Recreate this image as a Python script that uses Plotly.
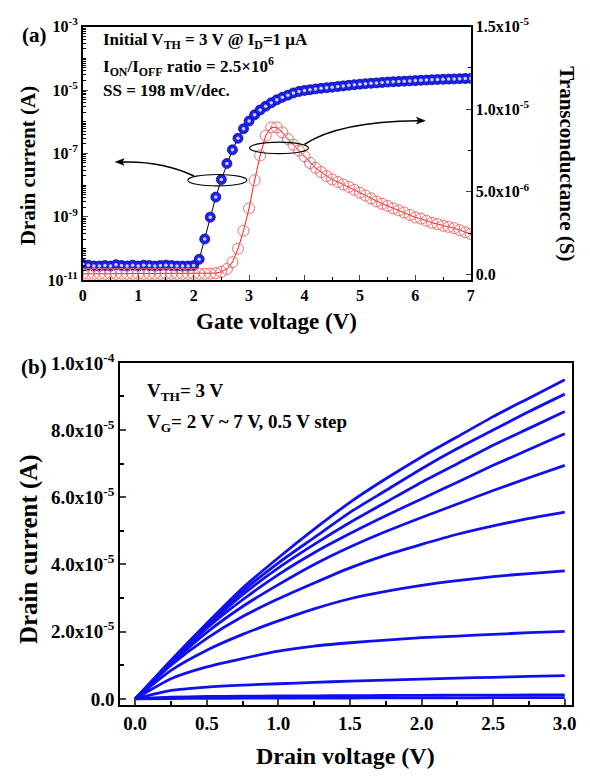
import numpy as np
import plotly.graph_objects as go

# ---------------- data: panel (a) transfer curve ----------------
gate_v = np.round(np.arange(0, 7.05, 0.1), 1)

drain_i = [
    3.2e-11, 3.0e-11, 2.8e-11, 2.8e-11, 2.9e-11, 2.8e-11, 3.1e-11, 2.9e-11, 2.8e-11, 3.0e-11,
    2.8e-11, 3.0e-11, 2.9e-11, 2.8e-11, 2.9e-11, 3.0e-11, 2.9e-11, 2.8e-11, 2.8e-11, 2.8e-11,
    2.9e-11, 4.6e-11, 2.0e-10, 9.8e-10, 4.2e-9, 1.5e-8, 4.8e-8, 1.3e-7, 3.0e-7, 6.0e-7,
    1.05e-6, 1.65e-6, 2.35e-6, 3.1e-6, 3.95e-6, 4.9e-6, 5.9e-6, 6.9e-6, 8.1e-6, 9.0e-6,
    9.7e-6, 1.02e-5, 1.08e-5, 1.13e-5, 1.18e-5, 1.23e-5, 1.29e-5, 1.35e-5, 1.41e-5, 1.47e-5,
    1.53e-5, 1.58e-5, 1.63e-5, 1.68e-5, 1.73e-5, 1.78e-5, 1.82e-5, 1.86e-5, 1.90e-5, 1.94e-5,
    1.98e-5, 2.02e-5, 2.06e-5, 2.10e-5, 2.14e-5, 2.18e-5, 2.21e-5, 2.24e-5, 2.27e-5, 2.30e-5,
    2.33e-5,
]

transconductance = [
    4e-8, 4e-8, 4e-8, 4e-8, 4e-8, 4e-8, 4e-8, 4e-8, 4e-8, 4e-8,
    4e-8, 4e-8, 4e-8, 4e-8, 4e-8, 4e-8, 4e-8, 4e-8, 4e-8, 4e-8,
    4e-8, 4e-8, 4e-8, 5e-8, 8e-8, 1.6e-7, 3.3e-7, 7.4e-7, 1.56e-6, 2.65e-6,
    4.0e-6, 5.7e-6, 7.2e-6, 8.4e-6, 8.9e-6, 8.9e-6, 8.6e-6, 8.2e-6, 7.85e-6, 7.5e-6,
    7.15e-6, 6.75e-6, 6.45e-6, 6.2e-6, 5.95e-6, 5.75e-6, 5.6e-6, 5.45e-6, 5.3e-6, 5.12e-6,
    4.95e-6, 4.78e-6, 4.6e-6, 4.42e-6, 4.28e-6, 4.15e-6, 4.0e-6, 3.88e-6, 3.75e-6, 3.6e-6,
    3.45e-6, 3.38e-6, 3.25e-6, 3.13e-6, 3.05e-6, 2.95e-6, 2.88e-6, 2.8e-6, 2.68e-6, 2.55e-6,
    2.45e-6,
]

# ---------------- data: panel (b) output curves ----------------
drain_v = [0, 0.25, 0.5, 0.75, 1.0, 1.25, 1.5, 1.75, 2.0, 2.25, 2.5, 2.75, 3.0]
vg_labels = ["2.0 V", "2.5 V", "3.0 V", "3.5 V", "4.0 V", "4.5 V", "5.0 V", "5.5 V", "6.0 V", "6.5 V", "7.0 V"]
id_vg20 = [0, 0.1e-6, 0.15e-6, 0.2e-6, 0.2e-6, 0.25e-6, 0.25e-6, 0.3e-6, 0.3e-6, 0.3e-6, 0.35e-6, 0.35e-6, 0.4e-6]
id_vg25 = [0, 0.5e-6, 0.7e-6, 0.8e-6, 0.85e-6, 0.9e-6, 0.95e-6, 1.0e-6, 1.05e-6, 1.1e-6, 1.1e-6, 1.15e-6, 1.2e-6]
id_vg30 = [0, 2.5e-6, 3.5e-6, 4.1e-6, 4.5e-6, 4.9e-6, 5.3e-6, 5.6e-6, 5.9e-6, 6.2e-6, 6.4e-6, 6.7e-6, 6.9e-6]
id_vg35 = [0, 6.0e-6, 9.5e-6, 1.2e-5, 1.42e-5, 1.57e-5, 1.67e-5, 1.75e-5, 1.82e-5, 1.87e-5, 1.92e-5, 1.97e-5, 2.01e-5]
id_vg40 = [0, 8.5e-6, 1.45e-5, 1.92e-5, 2.32e-5, 2.68e-5, 2.98e-5, 3.2e-5, 3.38e-5, 3.52e-5, 3.64e-5, 3.73e-5, 3.81e-5]
id_vg45 = [0, 1.0e-5, 1.8e-5, 2.45e-5, 2.98e-5, 3.45e-5, 3.9e-5, 4.28e-5, 4.6e-5, 4.9e-5, 5.15e-5, 5.37e-5, 5.56e-5]
id_vg50 = [0, 1.05e-5, 1.98e-5, 2.75e-5, 3.4e-5, 4.0e-5, 4.52e-5, 4.98e-5, 5.4e-5, 5.8e-5, 6.2e-5, 6.58e-5, 6.95e-5]
id_vg55 = [0, 1.08e-5, 2.1e-5, 2.95e-5, 3.7e-5, 4.35e-5, 4.92e-5, 5.45e-5, 5.95e-5, 6.45e-5, 6.95e-5, 7.42e-5, 7.89e-5]
id_vg60 = [0, 1.1e-5, 2.15e-5, 3.1e-5, 3.9e-5, 4.6e-5, 5.25e-5, 5.85e-5, 6.45e-5, 7.0e-5, 7.55e-5, 8.05e-5, 8.55e-5]
id_vg65 = [0, 1.12e-5, 2.2e-5, 3.2e-5, 4.05e-5, 4.8e-5, 5.55e-5, 6.2e-5, 6.85e-5, 7.45e-5, 8.0e-5, 8.55e-5, 9.07e-5]
id_vg70 = [0, 1.15e-5, 2.25e-5, 3.3e-5, 4.2e-5, 5.05e-5, 5.85e-5, 6.55e-5, 7.2e-5, 7.8e-5, 8.4e-5, 8.95e-5, 9.5e-5]
output_curves = [id_vg20, id_vg25, id_vg30, id_vg35, id_vg40, id_vg45, id_vg50, id_vg55, id_vg60, id_vg65, id_vg70]

# tick labels
a_left_ticks = [1e-11, 1e-9, 1e-7, 1e-5, 1e-3]
a_left_text = ["10<sup>-11</sup>", "10<sup>-9</sup>", "10<sup>-7</sup>", "10<sup>-5</sup>", "10<sup>-3</sup>"]
a_right_ticks = [0, 5e-6, 1e-5, 1.5e-5]
a_right_text = ["0.0", "5.0x10<sup>-6</sup>", "1.0x10<sup>-5</sup>", "1.5x10<sup>-5</sup>"]
b_y_ticks = [0, 2e-5, 4e-5, 6e-5, 8e-5, 1e-4]
b_y_text = ["0.0", "2.0x10<sup>-5</sup>", "4.0x10<sup>-5</sup>", "6.0x10<sup>-5</sup>", "8.0x10<sup>-5</sup>", "1.0x10<sup>-4</sup>"]

W, H = 590, 782
FONT = "Liberation Serif"


def px(xp):
    return xp / W


def py(yp):
    return 1 - yp / H


fig = go.Figure()

# transconductance (right axis)
fig.add_trace(go.Scatter(
    x=gate_v, y=transconductance, xaxis="x", yaxis="y2", mode="lines+markers",
    line=dict(color="#ff1a1a", width=1),
    marker=dict(symbol="circle-open-dot", size=11, color="#f46a6a", line=dict(width=1)),
    showlegend=False, hoverinfo="skip"))

# drain current (left log axis)
fig.add_trace(go.Scatter(
    x=gate_v, y=drain_i, xaxis="x", yaxis="y", mode="lines+markers",
    line=dict(color="black", width=1),
    marker=dict(symbol="circle", size=10, color="#1f1fef", line=dict(color="#0a0a9a", width=0.8)),
    showlegend=False, hoverinfo="skip"))
fig.add_trace(go.Scatter(
    x=gate_v, y=drain_i, xaxis="x", yaxis="y", mode="markers",
    marker=dict(symbol="circle", size=3.5, color="#c4d8ff"),
    showlegend=False, hoverinfo="skip"))

# output curves
for lab, ys in zip(vg_labels, output_curves):
    fig.add_trace(go.Scatter(
        x=drain_v, y=ys, xaxis="x2", yaxis="y3", mode="lines",
        line=dict(color="#1010ee", width=2.8, shape="spline", smoothing=0.6),
        name=lab, showlegend=False, hoverinfo="skip"))

tick_font_a = dict(family=FONT, size=16, color="black", weight="bold")
tick_font_b = dict(family=FONT, size=19, color="black", weight="bold")

log_minor = [m * 10.0 ** e for e in range(-11, -3) for m in range(1, 10)
             if not (m == 1 and e % 2 != 0)]
log_minor = [v for v in log_minor if v not in a_left_ticks]

fig.update_layout(
    width=W, height=H,
    margin=dict(l=0, r=0, t=0, b=0),
    paper_bgcolor="white", plot_bgcolor="white",
    xaxis=dict(domain=[px(80), px(474)], anchor="y", range=[0, 7],
               tickvals=[0, 1, 2, 3, 4, 5, 6, 7], ticks="inside", ticklen=5, tickwidth=1.2,
               minor=dict(dtick=0.5, ticks="inside", ticklen=3, tickcolor="black"),
               showline=True, linecolor="black", linewidth=1.6, mirror=True,
               showgrid=False, zeroline=False, tickfont=tick_font_a),
    yaxis=dict(domain=[py(275), py(14)], anchor="x", type="log", range=[-11, -3],
               tickvals=a_left_ticks, ticktext=a_left_text, ticks="inside", ticklen=5, tickwidth=1.2,
               minor=dict(tickvals=log_minor, ticks="inside", ticklen=3, tickcolor="black"),
               showline=True, linecolor="black", linewidth=1.6,
               showgrid=False, zeroline=False, tickfont=tick_font_a),
    yaxis2=dict(overlaying="y", anchor="x", side="right", range=[-3.5e-7, 1.5e-5],
                tickvals=a_right_ticks, ticktext=a_right_text, ticks="inside", ticklen=5, tickwidth=1.2,
                minor=dict(tickvals=[2.5e-6, 7.5e-6, 1.25e-5], ticks="inside", ticklen=3, tickcolor="black"),
                showline=True, linecolor="black", linewidth=1.6,
                showgrid=False, zeroline=False, tickfont=tick_font_a),
    xaxis2=dict(domain=[px(118), px(576.7)], anchor="y3", range=[-0.105, 3.05],
                tickvals=[0, 0.5, 1.0, 1.5, 2.0, 2.5, 3.0], tickformat=".1f",
                ticks="inside", ticklen=6, tickwidth=1.5,
                minor=dict(dtick=0.25, ticks="inside", ticklen=4, tickcolor="black"),
                showline=True, linecolor="black", linewidth=2, mirror=True,
                showgrid=False, zeroline=False, tickfont=tick_font_b),
    yaxis3=dict(domain=[py(712.3), py(360)], anchor="x2", range=[-1.9e-6, 1.0e-4],
                tickvals=b_y_ticks, ticktext=b_y_text, ticks="inside", ticklen=6, tickwidth=1.5,
                minor=dict(tickvals=[1e-5, 3e-5, 5e-5, 7e-5, 9e-5], ticks="inside", ticklen=4, tickcolor="black"),
                showline=True, linecolor="black", linewidth=2, mirror=True,
                showgrid=False, zeroline=False, tickfont=tick_font_b),
)

annotations = []


def note(text, xp, yp, size, xanchor="center", angle=0):
    annotations.append(dict(
        text=text, x=px(xp), y=py(yp), xref="paper", yref="paper",
        xanchor=xanchor, yanchor="middle", showarrow=False, textangle=angle,
        font=dict(family=FONT, size=size, color="black", weight="bold")))


note("(a)", 31, 23, 21)
note("(b)", 30, 364, 21)
note("Initial V<sub>TH</sub> = 3 V @ I<sub>D</sub>=1 μA", 98, 29, 17, "left")
note("I<sub>ON</sub>/I<sub>OFF</sub> ratio = 2.5×10<sup>6</sup>", 98, 55, 17, "left")
note("SS = 198 mV/dec.", 98, 80, 17, "left")
note("Drain current (A)", 24, 157, 21, angle=-90)
note("Transconductance (S)", 572, 155, 21, angle=90)
note("Gate voltage (V)", 277, 317, 23)
note("V<sub>TH</sub>= 3 V", 143, 390, 19, "left")
note("V<sub>G</sub>= 2 V ~ 7 V, 0.5 V step", 143, 422, 19, "left")
note("Drain current (A)", 26, 552, 25, angle=-90)
note("Drain voltage (V)", 347, 764, 24)
fig.update_layout(annotations=annotations)


def f(v):
    return f"{v:.12f}"


# pixel-size helpers for the pointer arrows of panel (a) (x: volts/px, y2: siemens/px)
DXP = 7.0 / 394.0
DYP = (1.5e-5 + 3.5e-7) / 261.0


def head(tx, ty, direction):
    # filled triangular arrowhead, tip at (tx, ty), pointing left (-1) or right (+1)
    bx = tx - direction * 9 * DXP
    return (f"M {f(tx)},{f(ty)} L {f(bx)},{f(ty + 3.5 * DYP)} "
            f"L {f(bx + direction * 2 * DXP)},{f(ty)} L {f(bx)},{f(ty - 3.5 * DYP)} Z")


shapes = [
    dict(type="circle", xref="x", yref="y2", x0=1.895, x1=2.96, y0=5.36e-6, y1=6.05e-6,
         line=dict(color="black", width=1.2)),
    dict(type="circle", xref="x", yref="y2", x0=3.01, x1=4.07, y0=7.31e-6, y1=8.01e-6,
         line=dict(color="black", width=1.2)),
    dict(type="path", xref="x", yref="y2",
         path=f"M {f(2.007)},{f(5.96e-6)} Q {f(1.42)},{f(6.88e-6)} {f(0.70)},{f(6.80e-6)}",
         line=dict(color="black", width=1.6)),
    dict(type="path", xref="x", yref="y2",
         path=f"M {f(4.0)},{f(7.87e-6)} Q {f(4.62)},{f(9.25e-6)} {f(6.05)},{f(9.30e-6)}",
         line=dict(color="black", width=1.6)),
    dict(type="path", xref="x", yref="y2", path=head(0.586, 6.81e-6, -1),
         fillcolor="black", line=dict(color="black", width=0.5)),
    dict(type="path", xref="x", yref="y2", path=head(6.18, 9.31e-6, 1),
         fillcolor="black", line=dict(color="black", width=0.5)),
]
fig.update_layout(shapes=shapes)

fig.write_html("out.html")
